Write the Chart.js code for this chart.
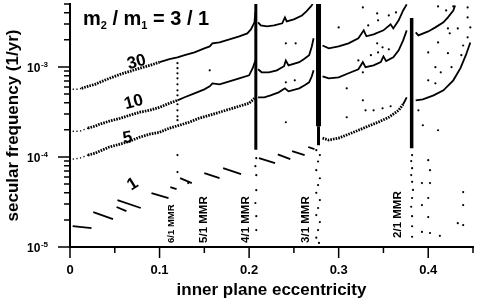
<!DOCTYPE html>
<html><head><meta charset="utf-8">
<script src="https://cdn.jsdelivr.net/npm/chart.js@4/dist/chart.umd.min.js"></script>
<style>html,body{margin:0;padding:0;background:#fff}#wrap{width:477px;height:300px}</style>
</head><body><div id="wrap"><canvas id="c" width="477" height="300"></canvas></div>
<script>
// ---- data (x = inner plane eccentricity, y = secular frequency 1/yr); null = break
const curve30 = [
[0.003,5.64e-4],[0.009,5.64e-4],[0.013,5.79e-4],[0.020,6.09e-4],[0.028,6.41e-4],[0.033,6.74e-4],[0.044,7.47e-4],[0.056,8.28e-4],[0.067,8.94e-4],[0.078,9.68e-4],[0.089,1.04e-3],[0.100,1.13e-3],[0.111,1.22e-3],[0.120,1.28e-3],[0.128,1.35e-3],[0.139,1.45e-3],[0.150,1.61e-3],[0.156,1.69e-3],[0.159,1.83e-3],[0.167,1.87e-3],[0.178,2.02e-3],[0.189,2.19e-3],[0.198,2.36e-3],[0.202,2.61e-3],[0.206,3.13e-3],[0.207,4.03e-3],
null,
[0.210,3.13e-3],[0.213,2.89e-3],[0.220,2.82e-3],[0.228,2.89e-3],[0.237,3.05e-3],[0.240,3.55e-3],[0.242,3.21e-3],[0.250,3.37e-3],[0.259,3.73e-3],[0.264,4.14e-3],[0.269,4.70e-3],[0.271,5.0e-3],
null,
[0.282,1.73e-3],[0.289,1.61e-3],[0.300,1.69e-3],[0.311,1.83e-3],[0.322,2.08e-3],[0.328,2.55e-3],[0.331,2.19e-3],[0.339,2.30e-3],[0.350,2.55e-3],[0.358,2.97e-3],[0.361,2.68e-3],[0.367,3.29e-3],[0.372,4.24e-3],[0.376,4.95e-3]
];
const curve10 = [
[0.003,1.93e-4],[0.011,1.93e-4],[0.020,2.09e-4],[0.028,2.20e-4],[0.033,2.31e-4],[0.044,2.50e-4],[0.056,2.69e-4],[0.067,2.91e-4],[0.078,3.14e-4],[0.089,3.30e-4],[0.100,3.56e-4],[0.111,3.95e-4],[0.120,4.26e-4],[0.128,4.60e-4],[0.139,5.09e-4],[0.150,5.64e-4],[0.156,6.09e-4],[0.159,6.57e-4],[0.167,6.41e-4],[0.178,6.92e-4],[0.189,7.47e-4],[0.200,8.07e-4],[0.204,9.68e-4],[0.207,1.18e-3],
null,
[0.210,9.41e-4],[0.214,8.72e-4],[0.222,8.72e-4],[0.231,9.17e-4],[0.239,1.02e-3],[0.241,1.18e-3],[0.244,1.04e-3],[0.256,1.13e-3],[0.261,1.22e-3],[0.267,1.35e-3],[0.270,1.69e-3],[0.272,2.08e-3],
null,
[0.282,7.87e-4],[0.289,7.47e-4],[0.300,7.67e-4],[0.311,8.50e-4],[0.322,9.41e-4],[0.327,1.13e-3],[0.330,9.93e-4],[0.339,1.04e-3],[0.347,1.13e-3],[0.350,1.31e-3],[0.353,1.16e-3],[0.361,1.28e-3],[0.367,1.53e-3],[0.372,1.97e-3],[0.376,2.55e-3],
null,
[0.386,2.42e-3],[0.389,2.24e-3],[0.400,2.48e-3],[0.408,2.75e-3],[0.417,3.13e-3],[0.422,3.55e-3],[0.428,4.24e-3],[0.430,4.82e-3]
];
const curve5 = [
[0.003,9.46e-5],[0.011,9.70e-5],[0.020,1.05e-4],[0.028,1.10e-4],[0.033,1.16e-4],[0.044,1.29e-4],[0.056,1.39e-4],[0.067,1.50e-4],[0.078,1.66e-4],[0.089,1.79e-4],[0.100,1.88e-4],[0.111,2.09e-4],[0.122,2.25e-4],[0.133,2.43e-4],[0.144,2.69e-4],[0.156,2.91e-4],[0.167,3.14e-4],[0.178,3.39e-4],[0.189,3.66e-4],[0.200,3.95e-4],[0.206,4.48e-4],
null,
[0.210,4.60e-4],[0.217,4.60e-4],[0.224,4.84e-4],[0.233,5.22e-4],[0.240,5.79e-4],[0.244,5.36e-4],[0.256,5.79e-4],[0.262,6.25e-4],[0.267,6.74e-4],[0.270,7.87e-4],[0.272,9.17e-4],
null,
[0.282,1.62e-4],[0.289,1.54e-4],[0.300,1.62e-4],[0.311,1.79e-4],[0.322,1.98e-4],[0.333,2.20e-4],[0.344,2.43e-4],[0.356,2.76e-4],[0.367,3.30e-4],[0.372,3.85e-4],[0.376,4.60e-4],
null,
[0.386,4.26e-4],[0.394,4.37e-4],[0.406,4.84e-4],[0.417,5.50e-4],[0.428,7.10e-4],[0.436,9.68e-4],[0.442,1.35e-3],[0.447,1.87e-3]
];
const curve1 = [
[0.003,1.71e-5],[0.024,1.62e-5],null,
[0.026,2.44e-5],[0.048,2.04e-5],null,
[0.053,3.32e-5],[0.079,2.71e-5],null,
[0.052,2.78e-5],[0.063,2.50e-5],null,
[0.091,3.97e-5],[0.110,3.50e-5],null,
[0.112,4.63e-5],[0.119,4.40e-5],null,
[0.123,5.82e-5],[0.136,5.13e-5],null,
[0.150,6.62e-5],[0.167,5.82e-5],null,
[0.171,7.52e-5],[0.191,6.45e-5],null,
[0.211,9.70e-5],[0.229,8.54e-5],null,
[0.232,1.07e-4],[0.246,9.46e-5],null,
[0.248,1.16e-4],[0.262,1.05e-4],null,
[0.266,1.29e-4],[0.273,1.22e-4]
];
// resonance spikes (dense vertical bands)
const spike41 = [[0.2075,5.0e-3],[0.2075,1.2e-4]];
const spike31 = [[0.2775,5.0e-3],[0.2775,2.2e-4]];
const spike31low = [[0.2775,2.2e-4],[0.2775,1.35e-4]];
const spike21 = [[0.3815,3.5e-3],[0.3815,1.25e-4]];
// isolated points
const scatterDots = [
[0.120,1.10e-3],[0.120,9.68e-4],[0.120,8.50e-4],[0.120,7.47e-4],[0.120,6.41e-4],[0.120,5.50e-4],[0.120,4.84e-4],[0.120,3.85e-4],[0.120,3.30e-4],[0.120,2.83e-4],[0.120,2.56e-4],[0.120,1.05e-4],[0.120,6.79e-5],
[0.156,9.17e-4],[0.132,5.13e-5],
[0.208,9.7e-5],[0.207,7.91e-5],[0.208,6.28e-5],[0.208,4.28e-5],[0.207,3.08e-5],[0.208,2.20e-5],[0.208,1.54e-5],
[0.241,1.83e-3],[0.252,1.83e-3],[0.241,6.74e-4],[0.251,7.10e-4],[0.241,2.43e-4],
[0.275,1.19e-4],[0.279,1.05e-4],[0.277,8.9e-5],[0.275,7.14e-5],[0.279,5.8e-5],[0.277,4.87e-5],[0.275,4.0e-5],[0.279,3.32e-5],[0.277,2.71e-5],[0.275,2.26e-5],[0.279,1.89e-5],[0.277,1.54e-5],[0.275,1.27e-5],[0.278,1.11e-5],
[0.300,2.75e-3],[0.309,5.79e-4],[0.309,2.76e-4],[0.327,4.26e-4],[0.327,8.72e-4],[0.327,4.58e-3],[0.343,3.93e-3],[0.343,1.83e-3],[0.349,1.65e-3],[0.330,3.30e-4],[0.339,3.30e-4],[0.349,3.47e-4],[0.358,3.66e-4],[0.322,1.18e-3],[0.336,1.35e-3],[0.344,1.45e-3],[0.356,1.57e-3],[0.333,2.89e-3],[0.344,3.29e-3],[0.356,3.73e-3],[0.364,4.03e-3],
[0.382,1.05e-4],[0.381,9.0e-5],[0.382,7.5e-5],[0.381,6.3e-5],[0.382,5.3e-5],[0.383,4.3e-5],[0.382,3.5e-5],[0.381,2.8e-5],[0.382,2.2e-5],[0.382,1.7e-5],[0.382,1.3e-5],
[0.411,4.70e-3],[0.420,4.24e-3],[0.428,4.70e-3],[0.422,2.68e-3],[0.424,2.36e-3],[0.433,2.68e-3],[0.444,4.58e-3],[0.444,3.55e-3],[0.447,2.75e-3],[0.444,2.13e-3],[0.411,1.87e-3],[0.400,1.45e-3],[0.422,1.42e-3],[0.437,1.35e-3],[0.408,9.93e-4],[0.414,8.72e-4],[0.426,9.93e-4],[0.400,7.10e-4],[0.408,6.57e-4],[0.439,1.73e-3],[0.389,3.30e-4],[0.394,2.25e-4],[0.411,1.98e-4],
[0.393,5.13e-5],[0.393,2.92e-5],[0.400,9.22e-5],[0.402,7.14e-5],[0.402,5.13e-5],[0.400,3.50e-5],[0.400,2.15e-5],[0.402,1.43e-5],[0.393,1.47e-5],[0.413,1.33e-5],[0.439,4.07e-5],[0.439,2.92e-5],[0.433,1.84e-5],[0.439,1.75e-5]
];
// axes
const xMajorTicks = [0, 0.1, 0.2, 0.3, 0.4];
const xTickLabels = ['0', '0.1', '0.2', '0.3', '0.4'];
const xMinorTicks = [0.05, 0.15, 0.25, 0.35, 0.45];
const yMajorTicks = [1e-5, 1e-4, 1e-3];
const yTickExponents = ['-5', '-4', '-3'];
const yMinorTicks = [2e-5,3e-5,4e-5,5e-5,6e-5,7e-5,8e-5,9e-5,2e-4,3e-4,4e-4,5e-4,6e-4,7e-4,8e-4,9e-4,2e-3,3e-3,4e-3,5e-3];
const curveLabels = [
  {text:'30', x:0.0744, y:1.13e-3, rot:-15},
  {text:'10', x:0.0711, y:4.05e-4, rot:-15},
  {text:'5',  x:0.0644, y:1.62e-4, rot:-10},
  {text:'1',  x:0.0700, y:4.99e-5, rot:-32}
];
const mmrLabels = [
  {text:'6/1 MMR', x:0.1133, y:1.11e-5, size:9.5},
  {text:'5/1 MMR', x:0.1489, y:1.11e-5, size:11.5},
  {text:'4/1 MMR', x:0.1967, y:1.11e-5, size:11.5},
  {text:'3/1 MMR', x:0.2633, y:1.11e-5, size:11.5},
  {text:'2/1 MMR', x:0.3656, y:1.26e-5, size:11.5}
];

const toPts = arr => { const out=[]; let lastX=0; arr.forEach(p=>{ if(p){ out.push({x:p[0],y:p[1]}); lastX=p[0]; } else out.push({x:lastX,y:null}); }); return out; };
const FONT = "'Liberation Sans', Arial, Helvetica, sans-serif";

function curveDS(arr, hatch){
  return {data: toPts(arr), showLine:true, borderColor:'#000', backgroundColor:'#000', borderWidth:1.8, pointRadius:0, spanGaps:false,
    segment:{
      borderDash: ctx => { const x=ctx.p0.parsed.x; if (x<0.012) return [1.2,2.5]; return hatch(x) ? [1.6,1.1] : undefined; },
      borderWidth: ctx => { const x=ctx.p0.parsed.x; if (x<0.012) return 1.4; return hatch(x) ? 2.8 : undefined; }
    }};
}
function lineDS(arr, w){ return {data: toPts(arr), showLine:true, borderColor:'#000', borderWidth:w, pointRadius:0, spanGaps:false}; }

const annot = {
  id:'annot',
  afterDraw(chart){
    const ctx=chart.ctx, xs=chart.scales.x, ys=chart.scales.y, a=chart.chartArea;
    ctx.save();
    ctx.strokeStyle='#000'; ctx.fillStyle='#000'; ctx.lineWidth=1.5;
    const L = a.left;
    ctx.beginPath();
    yMajorTicks.forEach(v=>{ const p=ys.getPixelForValue(v); ctx.moveTo(L-12,p); ctx.lineTo(L,p); });
    yMinorTicks.forEach(v=>{ const p=ys.getPixelForValue(v); ctx.moveTo(L-6,p); ctx.lineTo(L,p); });
    const B = a.bottom;
    xMajorTicks.forEach(v=>{ const p=xs.getPixelForValue(v); ctx.moveTo(p,B); ctx.lineTo(p,B+11); });
    xMinorTicks.forEach(v=>{ const p=xs.getPixelForValue(v); ctx.moveTo(p,B); ctx.lineTo(p,B+6); });
    ctx.stroke();
    ctx.textBaseline='middle';
    yMajorTicks.forEach((v,i)=>{
      const p=ys.getPixelForValue(v);
      ctx.font='bold 8px '+FONT; ctx.textAlign='right';
      const ew=ctx.measureText(yTickExponents[i]).width;
      ctx.fillText(yTickExponents[i], 48, p-2.5);
      ctx.font='bold 12px '+FONT;
      ctx.fillText('10', 48-ew-0.5, p+1.5);
    });
    ctx.font='bold 13px '+FONT; ctx.textAlign='center';
    xMajorTicks.forEach((v,i)=>{ ctx.fillText(xTickLabels[i], xs.getPixelForValue(v), B+23); });
    ctx.font='bold 17px '+FONT; ctx.textBaseline='alphabetic';
    ctx.fillText('inner plane eccentricity', (a.left+a.right)/2, 295);
    ctx.save(); ctx.translate(18,(a.top+a.bottom)/2); ctx.rotate(-Math.PI/2);
    ctx.fillText('secular frequency (1/yr)', 0, 0); ctx.restore();
    let x=83; const by=25;
    const seg=[['m',20,0],['2',11,4],[' / ',20,0],['m',20,0],['1',11,4],[' = 3 / 1',20,0]];
    ctx.textAlign='left';
    seg.forEach(s=>{ ctx.font='bold '+s[1]+'px '+FONT; ctx.fillText(s[0], x, by+s[2]); x+=ctx.measureText(s[0]).width; });
    ctx.textAlign='center'; ctx.textBaseline='middle';
    curveLabels.forEach(l=>{
      ctx.save(); ctx.translate(xs.getPixelForValue(l.x), ys.getPixelForValue(l.y)); ctx.rotate(l.rot*Math.PI/180);
      ctx.font='bold 17px '+FONT; ctx.fillText(l.text,0,0); ctx.restore();
    });
    ctx.textAlign='left';
    mmrLabels.forEach(l=>{
      ctx.save(); ctx.translate(xs.getPixelForValue(l.x), ys.getPixelForValue(l.y)); ctx.rotate(-Math.PI/2);
      ctx.font='bold '+l.size+'px '+FONT; ctx.fillText(l.text,0,0); ctx.restore();
    });
    ctx.restore();
  }
};

new Chart(document.getElementById('c'), {
  type:'scatter',
  data:{datasets:[
    curveDS(curve30, x => x < 0.10),
    curveDS(curve10, x => x < 0.12),
    curveDS(curve5,  x => x < 0.206 || (x > 0.28 && x < 0.37)),
    lineDS(curve1, 1.8),
    lineDS(spike41, 3),
    lineDS(spike31, 5),
    lineDS(spike31low, 3),
    lineDS(spike21, 3.5),
    {data: toPts(scatterDots), showLine:false, pointRadius:1.1, pointBorderWidth:0, pointBackgroundColor:'#000', borderColor:'#000'}
  ]},
  options:{
    responsive:false, animation:false, devicePixelRatio:1,
    layout:{padding:{top:4,right:2,left:0,bottom:0}},
    plugins:{legend:{display:false}, tooltip:{enabled:false}},
    scales:{
      x:{type:'linear', min:0, max:0.45, grid:{display:false}, ticks:{display:false},
         border:{display:true, color:'#000', width:2},
         afterFit: s => { s.height = 53; }},
      y:{type:'logarithmic', min:1e-5, max:5e-3, grid:{display:false}, ticks:{display:false},
         border:{display:true, color:'#000', width:2},
         afterFit: s => { s.width = 70; }}
    }
  },
  plugins:[annot]
});
</script>
</body></html>
